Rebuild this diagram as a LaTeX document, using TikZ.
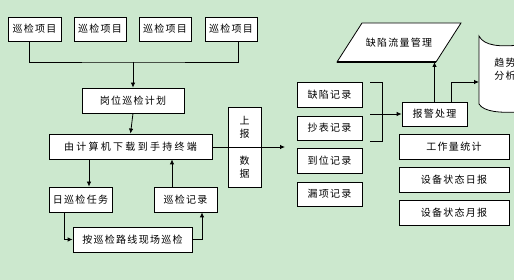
\documentclass[tikz,border=0pt]{standalone}
\usepackage{fontspec}
\newfontfamily\cjk[LetterSpace=13]{Noto Sans CJK SC}
\newfontfamily\cjkw[LetterSpace=23]{Noto Sans CJK SC}
\usetikzlibrary{arrows.meta}
\definecolor{bg}{RGB}{204,232,206}
\tikzset{
  box/.style={draw, fill=white, line width=0.8pt, inner sep=0pt, minimum height=25pt,
    font=\cjk\fontsize{10pt}{13pt}\selectfont, align=center},
  txt/.style={inner sep=0pt, font=\cjk\fontsize{10pt}{12.5pt}\selectfont, align=center},
  con/.style={line width=0.8pt},
  arr/.style={line width=0.8pt, -{Latex[length=5pt,width=4.5pt]}}
}
\begin{document}
\begin{tikzpicture}[x=1pt,y=-1pt]
\fill[bg] (0,0) rectangle (514,280);
\useasboundingbox (0,0) rectangle (514,280);
% top items
\node[box, minimum width=53pt, minimum height=24pt] (p1) at (34.5,29) {巡检项目};
\node[box, minimum width=52pt, minimum height=24pt] (p2) at (100,29) {巡检项目};
\node[box, minimum width=52pt, minimum height=24pt] (p3) at (165,29) {巡检项目};
\node[box, minimum width=52pt, minimum height=24pt] (p4) at (231,29) {巡检项目};
\node[box, minimum width=102pt] (plan) at (133,100.5) {岗位巡检计划};
\node[box, minimum width=163pt, font=\cjkw\fontsize{10pt}{13pt}\selectfont] (dl) at (130.5,146.5) {由计算机下载到手持终端};
\node[box, minimum width=33pt, minimum height=40pt] (sbt) at (244.5,127) {上\\报};
\node[box, minimum width=33pt, minimum height=40pt] (sbb) at (244.5,167) {数\\据};
\node[box, minimum width=63pt] (rw) at (80.5,199.5) {日巡检任务};
\node[box, minimum width=63pt] (jl) at (185.5,199.5) {巡检记录};
\node[box, minimum width=119pt] (ax) at (132.5,239.5) {按巡检路线现场巡检};
% record boxes
\node[box, minimum width=65pt] (qx) at (329.5,94.5) {缺陷记录};
\node[box, minimum width=65pt, minimum height=24pt] (cb) at (329.5,128) {抄表记录};
\node[box, minimum width=65pt] (dw) at (329.5,160.5) {到位记录};
\node[box, minimum width=65pt, minimum height=24pt] (lx) at (329.5,194) {漏项记录};
% right side
\node[box, minimum width=65pt, minimum height=24pt] (bj) at (434.5,114) {报警处理};
\node[box, minimum width=110pt] (gz) at (454,146.5) {工作量统计};
\node[box, minimum width=110pt] (rb) at (454,179.5) {设备状态日报};
\node[box, minimum width=110pt] (yb) at (454,212.5) {设备状态月报};
% parallelogram
\draw[con, fill=white] (362,23) -- (461,23) -- (436,62) -- (337,62) -- cycle;
\draw[line width=1.6pt] (337,62) -- (436,62);
\node[txt] (pg) at (399,42.5) {缺陷流量管理};
\coordinate (pgbot) at (399,62);
% tape shape (clipped at the picture's edge, as in the reference)
\begin{scope}
\clip (0,0) rectangle (514,280);
\draw[con, fill=white] (479,36) .. controls (484,46) and (500,47) .. (520,45)
  -- (520,112) .. controls (500,113) and (484,112) .. (479,104) -- cycle;
\node[txt] (qs) at (505,69) {趋势\\分析};
\end{scope}
\coordinate (tapein) at (479,82);
% connectors
\coordinate (hub) at (133,62);
\draw[con] ([xshift=-5.5pt]p1.south) |- (hub) -| ([xshift=7pt]p4.south);
\draw[arr] (hub) -- (plan.north);
\draw[arr] (plan.south) -- (dl.north);
\coordinate (sbout) at (285,147);
\draw[arr] (dl.east |- sbout) -- (sbout);
\path ([xshift=8.5pt]rw.north) coordinate (rwin);
\draw[arr] (dl.south -| rwin) -- (rwin);
\path ([xshift=-13.5pt]jl.north) coordinate (jlout);
\draw[arr] (jlout) -- (jlout |- dl.south);
\draw[arr] ([xshift=-16.5pt]rw.south) |- (ax.west);
\draw[arr] (ax.east) -| ([xshift=16.5pt]jl.south);
% bracket
\coordinate (bt) at (370,82);
\coordinate (bb) at (370,141);
\coordinate (bm) at (370,114);
\draw[con] (bt) -- ++(12,0) |- (bb);
\draw[arr] (bm) -- (bj.west);
\draw[arr] (bj.north) -- (bj.north |- pgbot);
\draw[arr] ([xshift=16.5pt]bj.north) |- (tapein);
\end{tikzpicture}
\end{document}
